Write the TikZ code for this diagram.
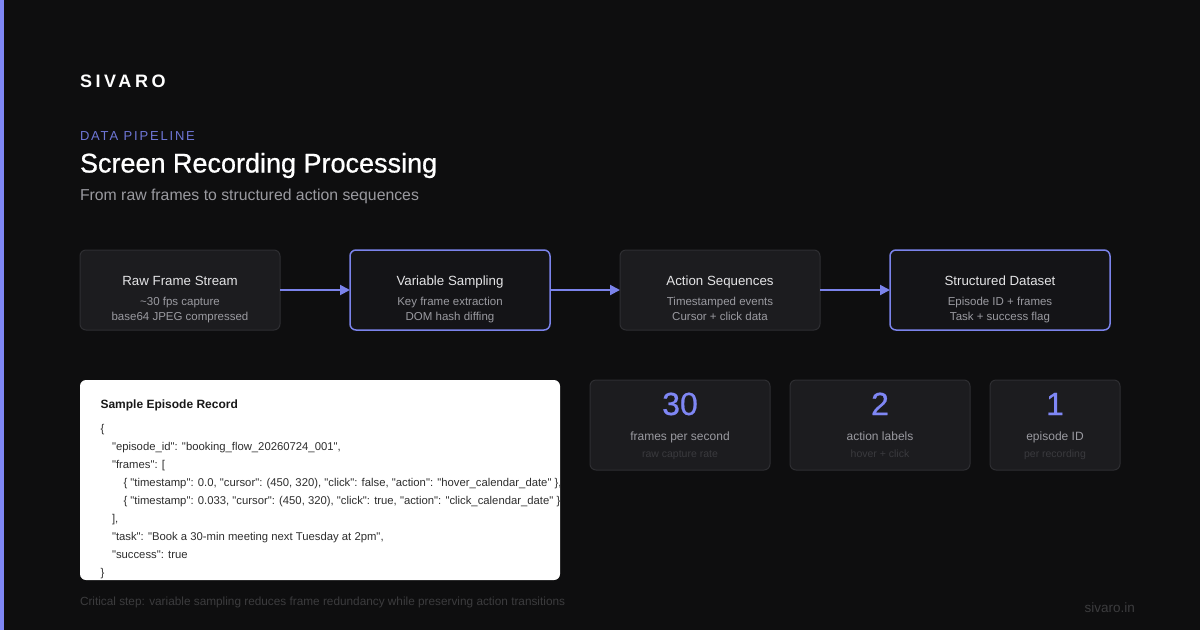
\documentclass[tikz,border=0pt]{standalone}
\usepackage{fontspec}
\setmainfont{Liberation Sans}
\newfontfamily\codefont{Liberation Sans}[Ligatures=TeXOff]
\usetikzlibrary{arrows.meta}
\definecolor{bgc}{HTML}{0E0E0F}
\definecolor{accent}{HTML}{7F87F5}
\definecolor{arrowc}{HTML}{7B83EB}
\definecolor{eyebrow}{HTML}{6E76D6}
\definecolor{boxfill}{HTML}{1C1C1F}
\definecolor{boxline}{HTML}{2E2E32}
\definecolor{hlfill}{HTML}{141417}
\definecolor{titlec}{HTML}{E4E4E6}
\definecolor{subc}{HTML}{9A9AA0}
\definecolor{codec}{HTML}{2E2E2E}
\definecolor{dimc}{HTML}{3A3A3E}
\definecolor{footc}{HTML}{3C3C3E}
\newcommand{\fsz}[1]{\fontsize{#1}{#1}\selectfont}
\begin{document}
\begin{tikzpicture}[x=1pt,y=-1pt,
  every node/.style={inner sep=0pt,outer sep=0pt},
  stage/.style={draw=boxline,fill=boxfill,line width=1pt,rounded corners=6pt,minimum width=200pt,minimum height=80pt},
  hlstage/.style={draw=arrowc,fill=hlfill,line width=1.5pt,rounded corners=6pt,minimum width=200pt,minimum height=80pt},
  stagetitle/.style={anchor=base,text=titlec,font=\fsz{13.3}},
  stagesub/.style={anchor=base,text=subc,font=\fsz{11.5}},
  flow/.style={draw=arrowc,line width=2pt,-{Triangle[length=10pt,width=10pt]}},
  card/.style={draw=boxline,fill=boxfill,line width=1pt,rounded corners=6pt,minimum height=90pt},
  bignum/.style={anchor=base,text=accent,font=\fsz{32}\addfontfeature{FakeBold=0.6}},
  cardlbl/.style={anchor=base,text=subc,font=\fsz{12}},
  carddim/.style={anchor=base,text=dimc,font=\fsz{10.5}},
  code/.style={anchor=base west,text=codec,font=\codefont\fsz{11.3}},
]
\useasboundingbox (0,0) rectangle (1200,630);
\fill[bgc] (0,0) rectangle (1200,630);
\fill[accent] (0,0) rectangle (4,630);

% header
\node[anchor=base west,text=white,font=\fsz{18}\bfseries\addfontfeature{LetterSpace=20}] (brand) at (80,87.5) {SIVARO};
\node[anchor=base west,text=eyebrow,font=\fsz{13}\addfontfeature{LetterSpace=14}] (eyebrowtxt) at (80,140) {DATA PIPELINE};
\node[anchor=base west,text=white,font=\fsz{27}\addfontfeature{FakeBold=0.8}] (title) at (80,172.5) {Screen Recording Processing};
\node[anchor=base west,text=subc,font=\fsz{15.8}] (subtitle) at (80,200) {From raw frames to structured action sequences};

% pipeline
\node[stage] (s1) at (180,290) {};
\node[hlstage] (s2) at (450,290) {};
\node[stage] (s3) at (720,290) {};
\node[hlstage,minimum width=220pt] (s4) at (1000,290) {};

\node[stagetitle] (s1t) at (180,285.5) {Raw Frame Stream};
\node[stagesub] (s1a) at (180,305) {\textasciitilde 30 fps capture};
\node[stagesub] (s1b) at (180,320) {base64 JPEG compressed};

\node[stagetitle] (s2t) at (450,285.5) {Variable Sampling};
\node[stagesub] (s2a) at (450,305) {Key frame extraction};
\node[stagesub] (s2b) at (450,320) {DOM hash diffing};

\node[stagetitle] (s3t) at (720,285.5) {Action Sequences};
\node[stagesub] (s3a) at (720,305) {Timestamped events};
\node[stagesub] (s3b) at (720,320) {Cursor + click data};

\node[stagetitle] (s4t) at (1000,285.5) {Structured Dataset};
\node[stagesub] (s4a) at (1000,305) {Episode ID + frames};
\node[stagesub] (s4b) at (1000,320) {Task + success flag};

\draw[flow] (s1.east) -- (s2.west);
\draw[flow] (s2.east) -- (s3.west);
\draw[flow] (s3.east) -- (s4.west);

% sample record
\node[fill=white,rounded corners=6pt,minimum width=480pt,minimum height=200pt] (rec) at (320,480) {};
\begin{scope}
\clip[rounded corners=6pt] (80,380) rectangle (560,580);
\node[anchor=base west,text=black!90,font=\fsz{12}\bfseries] (rect) at (100.5,408.3) {Sample Episode Record};
\node[code] (c1) at (100.5,432) {\{};
\node[code] (c2) at (112,450) {"episode\_id": "booking\_flow\_20260724\_001",};
\node[code] (c3) at (112,468) {"frames": [};
\node[code] (c4) at (123.5,486) {\{ "timestamp": 0.0, "cursor": (450, 320), "click": false, "action": "hover\_calendar\_date" \},};
\node[code] (c5) at (123.5,504) {\{ "timestamp": 0.033, "cursor": (450, 320), "click": true, "action": "click\_calendar\_date" \}};
\node[code] (c6) at (112,522) {],};
\node[code] (c7) at (112,540) {"task": "Book a 30-min meeting next Tuesday at 2pm",};
\node[code] (c8) at (112,558) {"success": true};
\node[code] (c9) at (100.5,576) {\}};
\end{scope}

% stat cards
\node[card,minimum width=180pt] (k1) at (680,425) {};
\node[card,minimum width=180pt] (k2) at (880,425) {};
\node[card,minimum width=130pt] (k3) at (1055,425) {};

\node[bignum] (k1n) at (680,415) {30};
\node[cardlbl] (k1l) at (680,440) {frames per second};
\node[carddim] (k1d) at (680,457.5) {raw capture rate};

\node[bignum] (k2n) at (880,415) {2};
\node[cardlbl] (k2l) at (880,440) {action labels};
\node[carddim] (k2d) at (880,457.5) {hover + click};

\node[bignum] (k3n) at (1055,415) {1};
\node[cardlbl] (k3l) at (1055,440) {episode ID};
\node[carddim] (k3d) at (1055,457.5) {per recording};

% footer
\node[anchor=base west,text=footc,font=\fsz{11.8}] (foot) at (80,605) {Critical step: variable sampling reduces frame redundancy while preserving action transitions};
\node[anchor=base east,text=footc,font=\fsz{13.5}] (url) at (1135,612) {sivaro.in};
\end{tikzpicture}
\end{document}
